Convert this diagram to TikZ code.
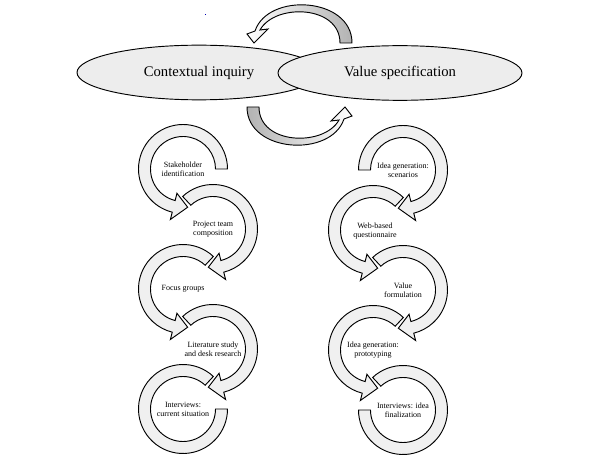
\documentclass[tikz,border=0pt]{standalone}
\usepackage{fontspec}
\setmainfont{Liberation Serif}
\usetikzlibrary{calc,shapes.geometric}

\newcommand{\outr}{44.5}
\newcommand{\innr}{32.5}
\newcommand{\midr}{38.5}
\newcommand{\headout}{52}
\newcommand{\headin}{25}

% circular arrow: centre, start angle, head base angle, tip angle
\newcommand{\cyclearrow}[4]{%
  \draw[band] ($(#1)+(#2:\outr)$) arc[start angle=#2, end angle=#3, radius=\outr]
    -- ($(#1)+(#3:\headout)$) -- ($(#1)+(#4:\midr)$) -- ($(#1)+(#3:\headin)$)
    -- ($(#1)+(#3:\innr)$) arc[start angle=#3, end angle=#2, radius=\innr] -- cycle;}

\begin{document}
\begin{tikzpicture}[x=0.75pt, y=0.75pt,
  band/.style={draw, line width=0.7pt, fill=black!6},
  phase/.style={ellipse, draw, line width=0.7pt, fill=black!7, minimum width=183pt,
    minimum height=41pt, inner sep=0pt, font=\fontsize{11}{13}\selectfont},
  steptext/.style={align=center, inner sep=0pt, font=\fontsize{6}{6.8}\selectfont}]
\useasboundingbox (0,0) rectangle (600,465);

% the two phases
\node[phase] (ci) at (199,392.5) {Contextual inquiry};
\node[phase] (vs) at (400,392) {Value specification};
\fill[blue!70!black] (204.5,449.5) rectangle (205.5,450.5);

% arrows between the phases
\draw[line width=0.7pt, left color=white, middle color=white, right color=black!30]
  (352,422) .. controls (352,468) and (268,473) .. (255,434) -- (247,431) -- (254,422)
  -- (268,436) -- (260,435) .. controls (275,462) and (340,460) .. (340,422) -- cycle;
\draw[line width=0.7pt, left color=black!30, middle color=white, right color=white]
  (247,358) .. controls (247,312) and (331,307) .. (344,346) -- (352,349) -- (345,358)
  -- (331,344) -- (339,345) .. controls (324,318) and (259,320) .. (259,358) -- cycle;

% centres of the cycles
\coordinate (L1) at (183,296);
\coordinate (L2) at (213,236);
\coordinate (L3) at (183,176);
\coordinate (L4) at (213,116);
\coordinate (L5) at (183,56);
\coordinate (R1) at (403,295);
\coordinate (R2) at (373,235);
\coordinate (R3) at (403,175);
\coordinate (R4) at (373,115);
\coordinate (R5) at (403,55);

% contextual inquiry steps
\cyclearrow{L1}{0}{256}{277}
\cyclearrow{L2}{133}{-76}{-97}
\cyclearrow{L3}{47}{256}{277}
\cyclearrow{L4}{133}{-76}{-97}
\draw[band] ($(L5)+(47:\outr)$) arc[start angle=47, end angle=360, radius=\outr]
  -- ($(L5)+(0:\innr)$) arc[start angle=360, end angle=47, radius=\innr] -- cycle;

% value specification steps
\cyclearrow{R1}{180}{-76}{-97}
\cyclearrow{R2}{47}{256}{277}
\cyclearrow{R3}{133}{-76}{-97}
\cyclearrow{R4}{47}{256}{277}
\draw[band] ($(R5)+(133:\outr)$) arc[start angle=133, end angle=-180, radius=\outr]
  -- ($(R5)+(180:\innr)$) arc[start angle=-180, end angle=133, radius=\innr] -- cycle;

\node[steptext] (stake) at (L1) {Stakeholder\\identification};
\node[steptext] (team) at (L2) {Project team\\composition};
\node[steptext] (focus) at (L3) {Focus groups};
\node[steptext] (lit) at (L4) {Literature study\\and desk research};
\node[steptext] (intcur) at (L5) {Interviews:\\current situation};
\node[steptext] (scen) at (R1) {Idea generation:\\scenarios};
\node[steptext] (web) at ($(R2)+(2,-1)$) {Web-based\\questionnaire};
\node[steptext] (valf) at (R3) {Value\\formulation};
\node[steptext] (proto) at (R4) {Idea generation:\\prototyping};
\node[steptext] (intfin) at (R5) {Interviews: idea\\finalization};
\end{tikzpicture}
\end{document}
